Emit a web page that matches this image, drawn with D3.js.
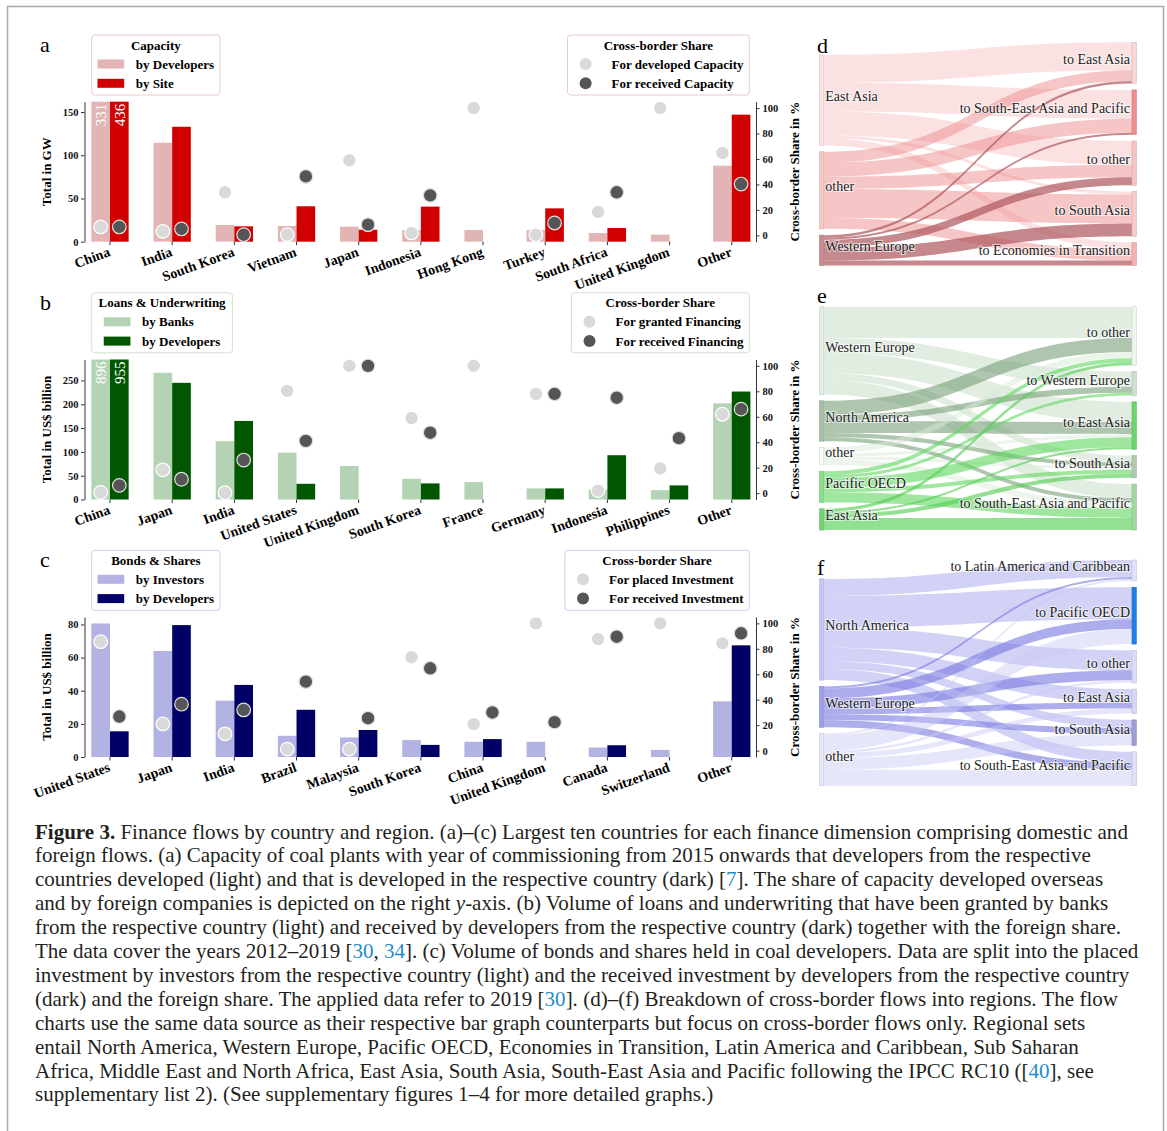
<!DOCTYPE html>
<html><head><meta charset="utf-8">
<script src="https://cdn.jsdelivr.net/npm/d3@7"></script>
<style>body{margin:0;background:#fff}svg{display:block}</style>
</head><body>
<svg id="fig" width="1167" height="1131"></svg>
<script>
// ---------------- DATA ----------------
// (a) capacity in GW
const catsA = ["China","India","South Korea","Vietnam","Japan","Indonesia","Hong Kong","Turkey","South Africa","United Kingdom","Other"];
const capDevelopers = [331,114.5,19.4,18.2,17.4,13.5,13.5,13.5,10,8.1,88];
const capSite = [436,133,17.8,41,13.9,40.6,0,38.6,15.9,0,147];
const shareDeveloped = [6.6,3.1,33.8,0.5,58.9,1.9,100,0.5,18.4,100,64.7];
const shareReceivedA = [6.6,5,0.5,46.3,8.4,31.4,null,9.7,33.8,null,40.3];
const ticksA = [0,50,100,150];

// (b) loans & underwriting, US$ billion
const catsB = ["China","Japan","India","United States","United Kingdom","South Korea","France","Germany","Indonesia","Philippines","Other"];
const loansBanks = [896,266,122.5,98.5,70.4,43.6,36.6,23.3,21,19.6,202];
const loansDevelopers = [955,245,165,33,0,33.8,0,23.3,93,29.6,226.7];
const shareGranted = [0.5,18.3,0.3,80.3,100,59,100,78,2,19.4,62];
const shareReceivedB = [6.1,10.9,26,41.1,100,47.5,null,78,75,43.2,66];
const ticksB = [0,50,100,150,200,250];

// (c) bonds & shares, US$ billion
const catsC = ["United States","Japan","India","Brazil","Malaysia","South Korea","China","United Kingdom","Canada","Switzerland","Other"];
const bondsInvestors = [80.6,64,34,12.8,11.8,10.2,9.2,9.2,5.7,4.3,33.6];
const bondsDevelopers = [15.5,79.6,43.5,28.5,16.3,7.3,10.8,0,7.1,0,67.4];
const sharePlaced = [85.6,21,13.2,1.2,1.2,73.4,20.8,100,87.7,100,84.3];
const shareReceivedC = [26.8,36.5,32,54.2,25.5,64.7,30,22.4,89.5,null,92.2];
const ticksC = [0,20,40,60,80];
const shareTicks = [0,20,40,60,80,100];

// (d) cross-border capacity flows (rows: sources, cols: targets)
const sourcesD = ["East Asia","other","Western Europe"];
const targetsD = ["to East Asia","to South-East Asia and Pacific","to other","to South Asia","to Economies in Transition"];
const flowsD = [
  [28,29,24,3,7],
  [11,14,12.5,29,11],
  [2.5,2,8,13,5]
];
// (e) cross-border loan flows
const sourcesE = ["Western Europe","North America","other","Pacific OECD","East Asia"];
const targetsE = ["to other","to Western Europe","to East Asia","to South Asia","to South-East Asia and Pacific"];
const flowsE = [
  [31,15,20,7,14],
  [14,6,12,4,4],
  [6,0,3,3,5.3],
  [4,2.8,10,4,10.2],
  [3,0,2,4,12]
];
// (f) cross-border bond & share flows
const sourcesF = ["North America","Western Europe","other"];
const targetsF = ["to Latin America and Caribbean","to Pacific OECD","to other","to East Asia","to South Asia","to South-East Asia and Pacific"];
const flowsF = [
  [17,32,20,13.5,8,11],
  [2,10,10,6,6,7],
  [2,15,2.6,5,11.7,16]
];

const captionLines = [
 [["Figure 3.","b"],[" Finance flows by country and region. (a)–(c) Largest ten countries for each finance dimension comprising domestic and",""]],
 [["foreign flows. (a) Capacity of coal plants with year of commissioning from 2015 onwards that developers from the respective",""]],
 [["countries developed (light) and that is developed in the respective country (dark) [",""],["7","c"],["]. The share of capacity developed overseas",""]],
 [["and by foreign companies is depicted on the right ",""],["y","i"],["-axis. (b) Volume of loans and underwriting that have been granted by banks",""]],
 [["from the respective country (light) and received by developers from the respective country (dark) together with the foreign share.",""]],
 [["The data cover the years 2012–2019 [",""],["30","c"],[", ",""],["34","c"],["]. (c) Volume of bonds and shares held in coal developers. Data are split into the placed",""]],
 [["investment by investors from the respective country (light) and the received investment by developers from the respective country",""]],
 [["(dark) and the foreign share. The applied data refer to 2019 [",""],["30","c"],["]. (d)–(f) Breakdown of cross-border flows into regions. The flow",""]],
 [["charts use the same data source as their respective bar graph counterparts but focus on cross-border flows only. Regional sets",""]],
 [["entail North America, Western Europe, Pacific OECD, Economies in Transition, Latin America and Caribbean, Sub Saharan",""]],
 [["Africa, Middle East and North Africa, East Asia, South Asia, South-East Asia and Pacific following the IPCC RC10 ([",""],["40","c"],["], see",""]],
 [["supplementary list 2). (See supplementary figures 1–4 for more detailed graphs.)",""]]
];

// ---------------- DRAWING ----------------
const svg = d3.select("#fig");
const SERIF = "'Liberation Serif','Times New Roman',Times,serif";
svg.append("rect").attr("x",7.5).attr("y",6.5).attr("width",1156).attr("height",1200)
  .attr("fill","none").attr("stroke","#a9a9a9").attr("stroke-width",1.5);

const LIGHT_DOT = "#d9d9d9", DARK_DOT = "#555555";

const barPanels = [
  {letter:"a", top:101.7, cats:catsA, light:capDevelopers, dark:capSite, sl:shareDeveloped, sd:shareReceivedA,
   yMax:162, ticks:ticksA, yTitle:"Total in GW", cL:"#e3b4b4", cD:"#d00000", frame:"#eccaca",
   legTitle:"Capacity", legLabels:["by Developers","by Site"],
   shareLabels:["For developed Capacity","For received Capacity"]},
  {letter:"b", top:359.5, cats:catsB, light:loansBanks, dark:loansDevelopers, sl:shareGranted, sd:shareReceivedB,
   yMax:294, ticks:ticksB, yTitle:"Total in US$ billion", cL:"#b4d3b4", cD:"#005700", frame:"#cfe2cf",
   legTitle:"Loans & Underwriting", legLabels:["by Banks","by Developers"],
   shareLabels:["For granted Financing","For received Financing"]},
  {letter:"c", top:617, cats:catsC, light:bondsInvestors, dark:bondsDevelopers, sl:sharePlaced, sd:shareReceivedC,
   yMax:84.5, ticks:ticksC, yTitle:"Total in US$ billion", cL:"#b3b3e3", cD:"#000066", frame:"#cfcfee",
   legTitle:"Bonds & Shares", legLabels:["by Investors","by Developers"],
   shareLabels:["For placed Investment","For received Investment"]}
];

function textWidth(g, str, size, weight) {
  const t = g.append("text").attr("font-family",SERIF).attr("font-size",size).attr("font-weight",weight).text(str);
  const w = t.node().getComputedTextLength(); t.remove(); return w;
}

function legend(g, p, anchorX, alignRight, title, labels, kind) {
  const padX = 5.8, handle = 26.7, gap = 11.6, top = p.top - 66.7, h = 60;
  const tw = textWidth(g, title, 13, "bold");
  const ew = handle + gap + d3.max(labels, l => textWidth(g, l, 13, "bold"));
  const inner = Math.max(tw + 2, ew);
  const W = inner + 2*padX;
  const x0 = alignRight ? anchorX - W : anchorX;
  const lg = g.append("g");
  lg.append("rect").attr("x",x0).attr("y",top).attr("width",W).attr("height",h).attr("rx",3)
    .attr("fill","#fff").attr("stroke",p.frame).attr("stroke-width",1);
  lg.append("text").attr("x",x0+W/2).attr("y",top+14.5).attr("text-anchor","middle")
    .attr("font-family",SERIF).attr("font-size",13).attr("font-weight","bold").text(title);
  const ex = x0 + padX + (inner - ew)/2;
  labels.forEach((l,k) => {
    const cy = top + 29 + k*19.3;
    if (kind === "bar") {
      lg.append("rect").attr("x",ex).attr("y",cy-4.5).attr("width",handle).attr("height",9)
        .attr("fill", k===0 ? p.cL : p.cD);
    } else {
      lg.append("circle").attr("cx",ex+handle/2-1).attr("cy",cy).attr("r",6)
        .attr("fill", k===0 ? LIGHT_DOT : DARK_DOT);
    }
    lg.append("text").attr("x",ex+handle+gap).attr("y",cy+4.5)
      .attr("font-family",SERIF).attr("font-size",13).attr("font-weight","bold").text(l);
  });
}

barPanels.forEach(p => {
  const g = svg.append("g");
  const top = p.top, bot = p.top + 140;
  const X0 = 84.5, X1 = 756;
  const n = p.cats.length;
  const x = d3.scaleLinear().domain([-0.41, n - 1 + 0.39]).range([X0, X1]);
  const y = d3.scaleLinear().domain([0, p.yMax]).range([bot, top]).clamp(true);
  const y2 = d3.scaleLinear().domain([-5, 105]).range([bot, top]);
  const bw = x(0.3) - x(0);

  g.append("text").attr("x",40).attr("y",top-50).attr("font-family",SERIF).attr("font-size",22).text(p.letter);

  legend(g, p, 91.7, false, p.legTitle, p.legLabels, "bar");
  legend(g, p, 749.3, true, "Cross-border Share", p.shareLabels, "dot");

  g.selectAll(".bl").data(p.light).join("rect")
    .attr("x",(d,i)=>x(i)-bw).attr("width",bw).attr("y",d=>y(d)).attr("height",d=>bot-y(d)).attr("fill",p.cL);
  g.selectAll(".bd").data(p.dark).join("rect")
    .attr("x",(d,i)=>x(i)).attr("width",bw).attr("y",d=>y(d)).attr("height",d=>bot-y(d)).attr("fill",p.cD);

  // clipped value labels
  [[p.light,-1],[p.dark,1]].forEach(([arr,s]) => {
    arr.forEach((v,i) => {
      if (v > p.yMax) {
        g.append("text").attr("transform",`translate(${x(i)+s*bw/2},${top+2}) rotate(-90)`)
          .attr("text-anchor","end").attr("dy","0.35em")
          .attr("font-family",SERIF).attr("font-size",15).attr("fill","#fff").text(v);
      }
    });
  });

  // share dots
  [[p.sl,-1,LIGHT_DOT,"#ffffff"],[p.sd,1,DARK_DOT,"#e0e0e0"]].forEach(([arr,s,fill,st]) => {
    g.selectAll(null).data(arr.map((v,i)=>({v,i})).filter(d=>d.v!=null)).join("circle")
      .attr("cx",d=>x(d.i)+s*bw/2).attr("cy",d=>y2(d.v)).attr("r",6.8)
      .attr("fill",fill).attr("stroke",st).attr("stroke-width",1.2);
  });

  // axes
  const axL = g.append("g").attr("transform",`translate(${X0},0)`)
    .call(d3.axisLeft(y).tickValues(p.ticks).tickSize(3.5).tickSizeOuter(0).tickPadding(2.5));
  const axR = g.append("g").attr("transform",`translate(${X1},0)`)
    .call(d3.axisRight(y2).tickValues(shareTicks).tickSize(3.5).tickSizeOuter(0).tickPadding(3));
  [axL,axR].forEach(a => {
    a.attr("font-family",SERIF).attr("font-size",10.5).attr("font-weight","bold");
    a.selectAll("path,line").attr("stroke","#333");
    a.selectAll("text").attr("fill","#111");
  });
  // x ticks + labels
  g.selectAll(".xt").data(p.cats).join("line")
    .attr("x1",(d,i)=>x(i)).attr("x2",(d,i)=>x(i)).attr("y1",bot).attr("y2",bot+3.5).attr("stroke","#333");
  g.selectAll(".xl").data(p.cats).join("text")
    .attr("transform",(d,i)=>`translate(${x(i)+1},${bot+14}) rotate(-20)`)
    .attr("text-anchor","end").attr("font-family",SERIF).attr("font-size",14).attr("font-weight","bold")
    .text(d=>d);
  // axis titles
  g.append("text").attr("transform",`translate(46,${(top+bot)/2}) rotate(-90)`).attr("text-anchor","middle")
    .attr("dy","0.35em").attr("font-family",SERIF).attr("font-size",13).attr("font-weight","bold").text(p.yTitle);
  g.append("text").attr("transform",`translate(794,${(top+bot)/2}) rotate(-90)`).attr("text-anchor","middle")
    .attr("dy","0.35em").attr("font-family",SERIF).attr("font-size",13).attr("font-weight","bold").text("Cross-border Share in %");
});

// ---------------- SANKEY ----------------
const sankeyPanels = [
  {letter:"d", ly:53, top:42.3, bottom:265.5, sources:sourcesD, targets:targetsD, flows:flowsD,
   srcCol:["#fde4e4","#f8c5c5","#c98b8f"],
   tgtCol:["#fad6d6","#ef8e8e","#f6c4c4","#f7cccc","#f3b3b3"],
   linkCol:["rgba(248,196,196,0.5)","rgba(238,140,140,0.5)","rgba(175,90,96,0.72)"]},
  {letter:"e", ly:303, top:306.7, bottom:530, sources:sourcesE, targets:targetsE, flows:flowsE,
   srcCol:["#e3eee3","#a6bfa6","#f6fbf6","#8bdc8b","#74d474"],
   tgtCol:["#eef6ee","#d0e0d0","#6fd46f","#b2c9b2","#a2d7a2"],
   linkCol:["rgba(200,222,200,0.55)","rgba(120,158,120,0.6)","rgba(215,235,215,0.5)","rgba(95,215,95,0.6)","rgba(80,205,80,0.62)"]},
  {letter:"f", ly:575, top:560, bottom:785.7, sources:sourcesF, targets:targetsF, flows:flowsF,
   srcCol:["#c6c6f4","#9d9dea","#e6e6fb"],
   tgtCol:["#e2e2fa","#1f7fe8","#dcdcf8","#d8d8f6","#9e9ed4","#e0e0f9"],
   linkCol:["rgba(165,165,240,0.5)","rgba(118,118,225,0.6)","rgba(200,200,245,0.45)"]}
];

sankeyPanels.forEach(p => {
  const g = svg.append("g");
  const pad = 6.3, xL = 819.5, nodeW = 4.3, xR = 1132;
  const outSum = p.flows.map(r => d3.sum(r));
  const inSum = p.targets.map((t,j) => d3.sum(p.flows, r => r[j]));
  const H = p.bottom - p.top;
  const ky = Math.min((H - (outSum.length-1)*pad)/d3.sum(outSum), (H - (inSum.length-1)*pad)/d3.sum(inSum));
  const stack = vals => {
    let yy = p.bottom - (d3.sum(vals)*ky + (vals.length-1)*pad);
    return vals.map(v => { const y0 = yy; yy += v*ky + pad; return [y0, y0 + v*ky]; });
  };
  const L = stack(outSum), R = stack(inSum);
  const so = L.map(d => d[0]), to = R.map(d => d[0]);
  const links = [];
  p.flows.forEach((row,i) => row.forEach((v,j) => {
    if (v > 0) {
      const w = v*ky;
      links.push({i, j, s0:so[i], s1:so[i]+w, t0:to[j], t1:to[j]+w});
      so[i] += w; to[j] += w;
    }
  }));
  const x0 = xL + nodeW, x1 = xR, xm = (x0 + x1)/2;
  g.selectAll(".lk").data(links).join("path")
    .attr("d", d => {
      const pth = d3.path();
      pth.moveTo(x0, d.s0);
      pth.bezierCurveTo(xm, d.s0, xm, d.t0, x1, d.t0);
      pth.lineTo(x1, d.t1);
      pth.bezierCurveTo(xm, d.t1, xm, d.s1, x0, d.s1);
      pth.closePath();
      return pth.toString();
    })
    .attr("fill", d => p.linkCol[d.i]);
  g.selectAll(".ns").data(L).join("rect")
    .attr("x",xL).attr("width",nodeW).attr("y",d=>d[0]).attr("height",d=>d[1]-d[0])
    .attr("fill",(d,i)=>p.srcCol[i]).attr("stroke",(d,i)=>d3.color(p.srcCol[i]).darker(0.4)).attr("stroke-width",0.6);
  g.selectAll(".nt").data(R).join("rect")
    .attr("x",xR).attr("width",nodeW).attr("y",d=>d[0]).attr("height",d=>d[1]-d[0])
    .attr("fill",(d,i)=>p.tgtCol[i]).attr("stroke",(d,i)=>d3.color(p.tgtCol[i]).darker(0.4)).attr("stroke-width",0.6);
  const lab = sel => sel.attr("font-family",SERIF).attr("font-size",14).attr("fill","#222")
    .attr("stroke","#fff").attr("stroke-width",2).attr("stroke-opacity",0.6).attr("paint-order","stroke");
  g.selectAll(".ls").data(p.sources).join("text")
    .attr("x",xL+nodeW+1.5).attr("y",(d,i)=>(L[i][0]+L[i][1])/2+1).text(d=>d).call(lab);
  g.selectAll(".lt").data(p.targets).join("text")
    .attr("x",xR-2).attr("y",(d,i)=>(R[i][0]+R[i][1])/2+1).attr("text-anchor","end").text(d=>d).call(lab);
  g.append("text").attr("x",817).attr("y",p.ly).attr("font-family",SERIF).attr("font-size",22).text(p.letter);
});

// ---------------- CAPTION ----------------
const capG = svg.append("g").attr("font-family",SERIF).attr("fill","#231f20");
const capTexts = capG.selectAll("text").data(captionLines).join("text")
  .attr("x",35).attr("y",(d,i)=>838.5 + i*23.9).attr("font-size",20);
capTexts.selectAll("tspan").data(d=>d).join("tspan")
  .attr("font-weight",d=>d[1]==="b"?"bold":null)
  .attr("font-style",d=>d[1]==="i"?"italic":null)
  .attr("fill",d=>d[1]==="c"?"#1f8ccb":null)
  .text(d=>d[0]);
const w0 = capTexts.node().getComputedTextLength();
const wMax = d3.max(capTexts.nodes(), n => n.getComputedTextLength());
capTexts.attr("font-size", 20*Math.min(1102/w0, 1104/wMax));
</script>
</body></html>
